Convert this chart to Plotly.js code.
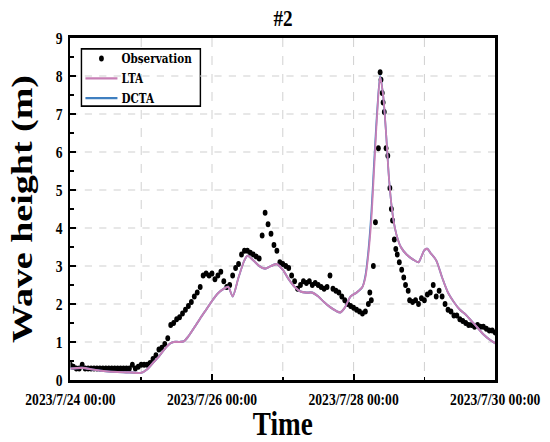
<!DOCTYPE html>
<html><head><meta charset="utf-8">
<script src="https://cdn.plot.ly/plotly-3.0.1.min.js"></script>
<style>
html,body{margin:0;padding:0;background:#fff;overflow:hidden;width:550px;height:442px}
#wrap{width:550px;height:442px;overflow:hidden;position:relative}
#chart{position:absolute;left:0;top:0;transform:scaleX(0.8);transform-origin:0 0}
</style>
</head><body>
<div id="wrap"><div id="chart"></div></div>
<script>
// Start time of the series; times below are hours after it
const startTime = "2023-07-24T00:00:00";

// Observation: hours after start, wave height (m)
const obsHours = [0,1,2,3,4,5,6,7,8,9,10,11,12,13,14,15,16,17,18,19,20,21,22,23,24,25,26,27,28,29,30,31,32,33,34,35,36,37,38,39,40,41,42,43,44,45,46,47,48,49,50,51,52,53,54,55,56,57,58,59,60,61,62,63,64,65,66,67,68,69,70,71,72,73,74,75,76,77,78,79,80,81,82,83,84,85,86,87,88,89,90,91,92,93,94,95,96,97,98,99,100,101,101.5,102,102.7,103.4,104.4,105,105.3,105.7,106,106.4,107,107.6,108.3,108.8,109.2,109.8,110.3,110.8,111.5,112.3,113,113.6,114.5,115,116,117,118,119,120,121,122,123,124,125,126,127,128,129,130,131,132,133,134,135,136,137,138,139,140,141,142,143,144];
const obsValues = [0.4,0.35,0.3,0.3,0.4,0.3,0.3,0.3,0.3,0.3,0.3,0.3,0.3,0.3,0.3,0.3,0.3,0.3,0.3,0.3,0.3,0.4,0.3,0.35,0.4,0.4,0.4,0.45,0.55,0.65,0.8,0.85,0.95,1.1,1.45,1.5,1.6,1.65,1.75,1.85,1.95,2.05,2.2,2.3,2.45,2.75,2.8,2.75,2.8,2.65,2.75,2.85,2.6,2.45,2.5,2.75,2.95,3.05,3.3,3.4,3.4,3.35,3.3,3.25,3.2,3.8,4.4,4.1,3.85,3.55,3.4,3.1,3.05,3.0,2.95,2.75,2.6,2.4,2.5,2.6,2.55,2.6,2.5,2.55,2.5,2.45,2.4,2.45,2.75,2.4,2.35,2.3,2.2,2.1,2.0,1.95,1.9,1.85,1.8,1.75,1.8,2.0,2.3,2.1,3.0,4.15,6.1,8.1,7.9,7.55,7.3,7.05,6.1,5.9,5.05,4.5,4.2,3.7,3.45,3.3,3.1,2.9,2.7,2.5,2.35,2.1,2.05,2.1,2.0,2.15,2.1,2.25,2.3,2.5,2.2,2.35,2.2,2.0,1.85,1.8,1.7,1.7,1.6,1.55,1.5,1.45,1.45,1.4,1.45,1.4,1.4,1.35,1.3,1.3,1.25];

// LTA model
const ltaHours = [0,4,8,12,16,20,24,26,28,30,32,34,35,37,38.5,40,42,44,46,48,50,52,53.5,55,57,59,60,62,64,66,68,70,72,74,76,78,80,82,84,86,88,90,91.5,93,95,97,99,100,101,102,103,104,105,106,107,108,109,110,111,112,114,116,118,119,120,121,122,124,126,128,130,132,134,136,138,140,142,144];
const ltaValues = [0.3,0.32,0.27,0.23,0.21,0.2,0.19,0.28,0.45,0.62,0.82,0.97,1.0,1.0,1.02,1.15,1.38,1.62,1.85,2.08,2.28,2.4,2.45,2.2,2.7,3.15,3.27,3.15,3.0,2.93,3.0,3.05,2.9,2.65,2.45,2.33,2.3,2.3,2.2,2.05,1.92,1.82,1.78,1.9,2.2,2.3,2.45,2.7,3.3,4.2,5.6,7.0,7.97,7.5,6.5,5.3,4.5,4.0,3.7,3.5,3.3,3.18,3.1,3.25,3.42,3.45,3.35,3.15,2.7,2.3,2.05,1.85,1.72,1.55,1.38,1.2,1.07,0.97];

// DCTA model
const dctaHours = ltaHours;
const dctaValues = [0.3,0.32,0.27,0.23,0.21,0.2,0.19,0.28,0.45,0.62,0.82,0.97,1.0,1.0,1.02,1.15,1.38,1.62,1.85,2.08,2.28,2.4,2.45,2.2,2.7,3.15,3.27,3.15,3.0,2.93,3.0,3.05,2.9,2.65,2.45,2.33,2.3,2.3,2.2,2.05,1.92,1.82,1.78,1.9,2.2,2.3,2.45,2.75,3.4,4.4,5.8,7.1,8.0,7.5,6.5,5.3,4.5,4.0,3.7,3.5,3.3,3.18,3.1,3.25,3.42,3.45,3.35,3.15,2.7,2.3,2.05,1.85,1.72,1.55,1.38,1.2,1.07,0.97];

const startMs = Date.parse(startTime + "Z");
function toDates(hours){ return hours.map(h => new Date(startMs + h*3600000).toISOString().slice(0,19).replace("T"," ")); }

const serif = "Liberation Serif, Times New Roman, serif";
const SX = 0.8;              // horizontal squeeze of the reference picture
const W = 550 / SX, H = 442;

const traces = [
  {x: toDates(obsHours), y: obsValues, type: "scatter", mode: "markers", name: "Observation",
   marker: {color: "#000", size: 6}, legendrank: 1},
  {x: toDates(dctaHours), y: dctaValues, type: "scatter", mode: "lines", name: "DCTA",
   line: {color: "#3f7fc0", width: 2.2, shape: "spline", smoothing: 0.8}, legendrank: 3},
  {x: toDates(ltaHours), y: ltaValues, type: "scatter", mode: "lines", name: "LTA",
   line: {color: "#c87fb6", width: 2.2, shape: "spline", smoothing: 0.8}, legendrank: 2}
];

const layout = {
  width: W, height: H,
  margin: {l: 70 / SX, r: W - 495 / SX, t: 38, b: 62},
  paper_bgcolor: "#fff", plot_bgcolor: "#fff",
  font: {family: serif, color: "#000"},
  title: {text: "<b>#2</b>", x: 283 / 550, xanchor: "center", y: 1 - 18 / 442, yanchor: "middle",
          font: {family: serif, size: 24, color: "#000"}},
  showlegend: true,
  legend: {x: 0.026, y: 0.984, xanchor: "left", yanchor: "top",
           bgcolor: "rgba(0,0,0,0)", borderwidth: 0,
           font: {family: "DejaVu Serif, serif", size: 13, color: "#000", weight: "bold"},
           tracegroupgap: 0, itemwidth: 40},
  shapes: [
    {type: "rect", xref: "paper", yref: "paper", layer: "between",
     x0: 0.026, x1: 0.306, y0: 0.801, y1: 0.968,
     fillcolor: "#fff", line: {color: "#000", width: 1.8}}
  ],
  xaxis: {
    type: "date",
    range: ["2023-07-24 00:00:00", "2023-07-30 00:00:00"],
    tick0: "2023-07-24 00:00:00", dtick: 172800000,
    tickformat: "%Y/%-m/%d %H:%M",
    tickfont: {family: serif, size: 17, color: "#000", weight: "bold"},
    ticklabelstandoff: 2,
    ticks: "inside", ticklen: 6, tickwidth: 2.5, tickcolor: "#000",
    showline: true, linecolor: "#000", linewidth: 3, mirror: true,
    showgrid: true, gridcolor: "#cfcfcf", griddash: "dash", gridwidth: 1.2,
    minor: {dtick: 86400000, ticks: "inside", ticklen: 3, tickwidth: 2, tickcolor: "#000",
            showgrid: true, gridcolor: "#cfcfcf", griddash: "dash", gridwidth: 1.2},
    zeroline: false,
    title: {text: "<b>Time</b>", standoff: 6, font: {family: serif, size: 34, color: "#000"}}
  },
  yaxis: {
    range: [0, 9], dtick: 1, tick0: 0,
    tickfont: {family: serif, size: 17, color: "#000", weight: "bold"},
    ticklabelstandoff: 3,
    ticks: "inside", ticklen: 7, tickwidth: 2.5, tickcolor: "#000",
    showline: true, linecolor: "#000", linewidth: 3.5, mirror: true,
    showgrid: true, gridcolor: "#cfcfcf", griddash: "dash", gridwidth: 1.2,
    minor: {dtick: 0.5, ticks: "inside", ticklen: 4, tickwidth: 2, tickcolor: "#000", showgrid: false},
    zeroline: false,
    title: {text: "<b>Wave height (m)</b>", standoff: 18, font: {family: serif, size: 38, color: "#000"}}
  }
};

Plotly.newPlot("chart", traces, layout, {displayModeBar: false, staticPlot: true});
</script>
</body></html>
